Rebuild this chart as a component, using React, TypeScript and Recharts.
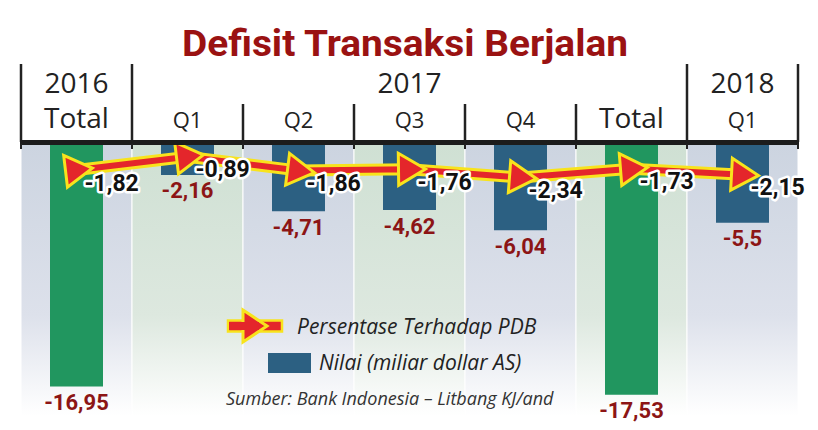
import { Bar, Cell, ComposedChart, LabelList, Line, ReferenceArea, XAxis, YAxis } from "recharts";

const periods = ["2016 Total", "2017 Q1", "2017 Q2", "2017 Q3", "2017 Q4", "2017 Total", "2018 Q1"];
const nilai = [-16.95, -2.16, -4.71, -4.62, -6.04, -17.53, -5.5];
const persen = [-1.82, -0.89, -1.86, -1.76, -2.34, -1.73, -2.15];
const isTotal = [true, false, false, false, false, true, false];
const subLabels = ["Total", "Q1", "Q2", "Q3", "Q4", "Total", "Q1"];
const years = [
  { label: "2016", span: 1 },
  { label: "2017", span: 5 },
  { label: "2018", span: 1 },
];

const data = periods.map((p, i) => ({ period: p, nilai: nilai[i], persen: persen[i] }));

const W = 818;
const H = 430;
const LEFT = 21;
const RIGHT = 798;
const TOP = 144;
const COL = (RIGHT - LEFT) / periods.length;

const RED = "#e4262b";
const YELLOW = "#f8e31c";
const GREEN = "#21965f";
const BLUE = "#2c6082";
const DARKRED = "#8c1515";
const FONT = "'Open Sans', sans-serif";
const NUMFONT = "Roboto, sans-serif";

const fmt = (v: number) => String(v).replace(".", ",");

const ArrowHead = (props: any) => {
  const { cx, cy, index, points } = props;
  if (cx == null || cy == null) return null;
  let angle = 0;
  if (points && points.length > 1) {
    const a = index > 0 ? points[index - 1] : points[0];
    const b = index > 0 ? points[index] : points[1];
    angle = (Math.atan2(b.y - a.y, b.x - a.x) * 180) / Math.PI;
  }
  return (
    <g key={`head-${index}`} transform={`translate(${cx},${cy}) rotate(${angle})`}>
      <polygon points="-11,-16 16,0 -11,16" fill={RED} stroke={YELLOW} strokeWidth={3} strokeLinejoin="miter" />
    </g>
  );
};

const BarValue = (props: any) => {
  const { x, y, width, height, value } = props;
  const bottom = Math.max(y, y + height);
  return (
    <text x={x + width / 2} y={bottom + 16} textAnchor="middle" dominantBaseline="central"
      fontFamily={NUMFONT} fontWeight={700} fontSize={22} fill={DARKRED}>
      {fmt(value)}
    </text>
  );
};

const LineValue = (props: any) => {
  const { x, y, value } = props;
  return (
    <text x={x + 8} y={y + 13} textAnchor="start" dominantBaseline="central"
      fontFamily={NUMFONT} fontWeight={700} fontSize={23} fill="#111"
      stroke="#fff" strokeWidth={5} strokeLinejoin="round" paintOrder="stroke">
      {fmt(value)}
    </text>
  );
};

const Header = () => {
  let col = 0;
  const groups = years.map((g) => {
    const start = col;
    col += g.span;
    return { ...g, start };
  });
  return (
    <svg width={W} height={H} style={{ position: "absolute", left: 0, top: 0, pointerEvents: "none" }}>
      <text x={405} y={56} textAnchor="middle" fontFamily={NUMFONT} fontWeight={700} fontSize={37}
        fill="#9a1212" textLength={446} lengthAdjust="spacingAndGlyphs">
        Defisit Transaksi Berjalan
      </text>
      {groups.map((g) => (
        <g key={g.label}>
          <line x1={LEFT + g.start * COL} x2={LEFT + g.start * COL} y1={64} y2={142} stroke="#222" strokeWidth={2.5} />
          <text x={LEFT + (g.start + g.span / 2) * COL} y={93} textAnchor="middle" fontFamily={FONT} fontSize={28} fill="#222">
            {g.label}
          </text>
        </g>
      ))}
      <line x1={RIGHT} x2={RIGHT} y1={64} y2={142} stroke="#222" strokeWidth={2.5} />
      {subLabels.map((s, i) => {
        const inner = i > groups[1].start && i < groups[1].start + groups[1].span;
        return (
          <g key={i}>
            {inner && <line x1={LEFT + i * COL} x2={LEFT + i * COL} y1={104} y2={142} stroke="#222" strokeWidth={2.5} />}
            <text x={LEFT + (i + 0.5) * COL} y={128} textAnchor="middle" fontFamily={FONT}
              fontSize={s === "Total" ? 28 : 22} fill="#222">
              {s}
            </text>
          </g>
        );
      })}
      <rect x={LEFT - 1} y={140} width={RIGHT - LEFT + 2} height={5} fill="#1c1c1c" />
      {Array.from({ length: periods.length + 1 }, (_, i) => (
        <line key={i} x1={LEFT + i * COL} x2={LEFT + i * COL} y1={144} y2={149} stroke="#222" strokeWidth={2} />
      ))}
      {/* legend */}
      <rect x={228} y={320.5} width={54} height={11} fill={RED} stroke={YELLOW} strokeWidth={2.5} />
      <polygon points="243,310 267,326 243,342" fill={RED} stroke={YELLOW} strokeWidth={3} />
      <rect x={229} y={322} width={30} height={8} fill={RED} />
      <text x={297} y={326} dominantBaseline="central" fontFamily={FONT} fontStyle="italic" fontSize={21} fill="#222">
        Persentase Terhadap PDB
      </text>
      <rect x={268} y={353} width={43} height={20} fill={BLUE} />
      <text x={319} y={362} dominantBaseline="central" fontFamily={FONT} fontStyle="italic" fontSize={21} fill="#222">
        Nilai (miliar dollar AS)
      </text>
      <text x={226} y={398} dominantBaseline="central" fontFamily={FONT} fontStyle="italic" fontSize={18} fill="#333">
        Sumber: Bank Indonesia – Litbang KJ/and
      </text>
    </svg>
  );
};

export default function App() {
  return (
    <div style={{ position: "absolute", left: 0, top: 0, width: W, height: H, background: "#fff" }}>
      <svg width={0} height={0} style={{ position: "absolute" }}>
        <defs>
          <linearGradient id="bgGray" x1="0" y1="0" x2="0" y2="1">
            <stop offset="0" stopColor="#ccd4e0" />
            <stop offset="0.6" stopColor="#dde1eb" />
            <stop offset="0.95" stopColor="#ffffff" />
          </linearGradient>
          <linearGradient id="bgGreen" x1="0" y1="0" x2="0" y2="1">
            <stop offset="0" stopColor="#cfe0d3" />
            <stop offset="0.6" stopColor="#dde8df" />
            <stop offset="0.95" stopColor="#ffffff" />
          </linearGradient>
        </defs>
      </svg>
      <ComposedChart width={W} height={H} data={data}
        margin={{ top: TOP, right: W - RIGHT, bottom: 0, left: LEFT }}>
        <XAxis dataKey="period" hide />
        <YAxis hide domain={[-20, 0]} allowDataOverflow />
        {periods.map((p, i) => (
          <ReferenceArea key={p} x1={p} x2={p} y1={-20} y2={0}
            fill={i % 2 === 0 ? "url(#bgGray)" : "url(#bgGreen)"} fillOpacity={1}
            stroke="#ffffff" strokeWidth={1} ifOverflow="visible" />
        ))}
        <Bar dataKey="nilai" barSize={53} isAnimationActive={false}>
          {data.map((d, i) => (
            <Cell key={d.period} fill={isTotal[i] ? GREEN : BLUE} />
          ))}
          <LabelList dataKey="nilai" content={BarValue} />
        </Bar>
        <Line type="linear" dataKey="persen" stroke={YELLOW} strokeWidth={12} dot={false} activeDot={false}
          isAnimationActive={false} />
        <Line type="linear" dataKey="persen" stroke={RED} strokeWidth={6} dot={ArrowHead} activeDot={false}
          isAnimationActive={false}>
          <LabelList dataKey="persen" content={LineValue} />
        </Line>
      </ComposedChart>
      <Header />
    </div>
  );
}
